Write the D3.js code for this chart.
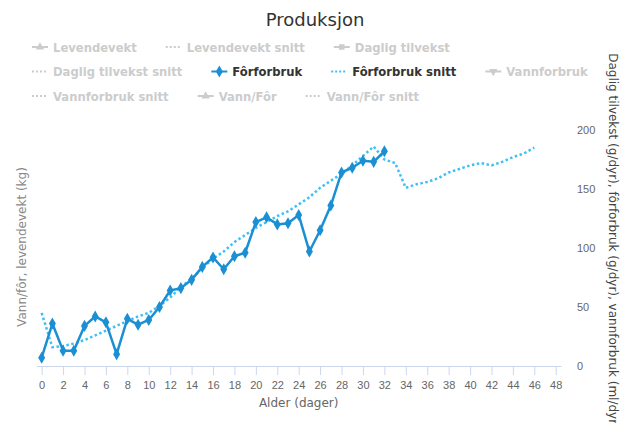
<!DOCTYPE html>
<html>
<head>
<meta charset="utf-8">
<script src="https://cdn.jsdelivr.net/npm/d3@7"></script>
<style>
  body { margin: 0; background: #fff; }
  svg { display: block; font-family: "DejaVu Sans", Verdana, sans-serif; }
</style>
</head>
<body>
<svg id="chart" width="630" height="423"></svg>
<script>
// Fôrforbruk (g/dyr) per alder dag 0..32
var forforbruk = [7, 36, 13, 13, 34, 42, 37, 10, 40, 35, 39, 50, 64, 66, 73, 84, 92, 82, 93, 96,
                  122, 126, 120, 121, 128, 97, 115, 136, 164, 168, 174, 173, 182]
// Fôrforbruk snitt per alder dag 0..46
var forforbrukSnitt = [45, 16, 17, 19, 22, 26, 30, 34, 38, 42, 45, 51, 58, 67, 74, 83, 91, 97, 105, 111,
                       117, 122, 127, 131, 137, 143, 151, 157, 163, 170, 178, 186, 175, 172, 151, 154, 156, 159, 164, 167,
                       170, 172, 170, 173, 177, 180, 185]
var xTicks = [0, 2, 4, 6, 8, 10, 12, 14, 16, 18, 20, 22, 24, 26, 28, 30, 32, 34, 36, 38, 40, 42, 44, 46, 48]
var yTicks = [0, 50, 100, 150, 200]

// legend rows: name, kind, marker, shown
var legendRows = [
  [["Levendevekt", "line", "triangle", false], ["Levendevekt snitt", "dot", null, false], ["Daglig tilvekst", "line", "square", false]],
  [["Daglig tilvekst snitt", "dot", null, false], ["Fôrforbruk", "line", "diamond", true], ["Fôrforbruk snitt", "dot", null, true], ["Vannforbruk", "line", "triangle-down", false]],
  [["Vannforbruk snitt", "dot", null, false], ["Vann/Fôr", "line", "triangle", false], ["Vann/Fôr snitt", "dot", null, false]]
]

var blue = "#1b8fd3"
var cyan = "#3fc0f4"
var hidden = "#cccccc"

var svg = d3.select("#chart")

var x = d3.scaleLinear().domain([-0.5, 48.5]).range([36.3, 561.1])
var yR = d3.scaleLinear().domain([0, 200]).range([366, 130])

// title
svg.append("text")
  .attr("x", 315).attr("y", 26)
  .attr("text-anchor", "middle")
  .attr("font-size", 18).attr("fill", "#333")
  .text("Produksjon")

// legend
var symbolOf = {
  "triangle": d3.symbolTriangle,
  "square": d3.symbolSquare,
  "diamond": d3.symbolDiamond,
  "triangle-down": d3.symbolTriangle
}
legendRows.forEach(function(row, r) {
  var cx = 32
  var cy = 47 + r * 24.5
  row.forEach(function(item) {
    var g = svg.append("g").attr("transform", "translate(" + cx + "," + cy + ")")
    var col = item[3] ? (item[1] == "dot" ? cyan : blue) : hidden
    var ln = g.append("line").attr("x1", 0).attr("x2", 16).attr("y1", 0).attr("y2", 0)
      .attr("stroke", col).attr("stroke-width", 2)
    if (item[1] == "dot") ln.attr("stroke-dasharray", "2,2")
    if (item[2]) {
      g.append("path")
        .attr("d", d3.symbol().type(symbolOf[item[2]]).size(item[2] == "diamond" ? 42 : 30)())
        .attr("transform", "translate(8,0)" + (item[2] == "triangle-down" ? " rotate(180)" : ""))
        .attr("fill", col)
    }
    var t = g.append("text").attr("x", 21).attr("y", 4.5)
      .attr("font-size", 11.6).attr("font-weight", "bold")
      .attr("fill", item[3] ? "#333" : hidden)
      .text(item[0])
    cx += 21 + t.node().getComputedTextLength() + 29
  })
})

// x axis
var xAxis = svg.append("g")
  .attr("transform", "translate(0,366)")
  .call(d3.axisBottom(x).tickValues(xTicks).tickSize(9).tickSizeOuter(0).tickPadding(6))
xAxis.select(".domain").attr("stroke", "#ccd6eb")
xAxis.selectAll(".tick line").attr("stroke", "#ccd6eb")
xAxis.selectAll("text").attr("font-size", 11).attr("fill", "#666").attr("font-family", null)

svg.append("text")
  .attr("x", 298.7).attr("y", 407)
  .attr("text-anchor", "middle")
  .attr("font-size", 12).attr("fill", "#666")
  .text("Alder (dager)")

// right axis
var yAxis = svg.append("g")
  .attr("transform", "translate(561,0)")
  .call(d3.axisRight(yR).tickValues(yTicks).tickSize(0).tickPadding(16))
yAxis.select(".domain").remove()
yAxis.selectAll("text").attr("font-size", 11).attr("fill", "#666").attr("font-family", null)

svg.append("text")
  .attr("transform", "translate(609,241) rotate(90)")
  .attr("text-anchor", "middle")
  .attr("font-size", 12).attr("fill", "#444")
  .text("Daglig tilvekst (g/dyr), fôrforbruk (g/dyr), vannforbruk (ml/dyr)")

svg.append("text")
  .attr("transform", "translate(26,247) rotate(-90)")
  .attr("text-anchor", "middle")
  .attr("font-size", 12).attr("fill", "#888")
  .text("Vann/fôr, levendevekt (kg)")

// series
var line = d3.line()
  .x(function(d, i) { return x(i) })
  .y(function(d) { return yR(d) })

svg.append("path")
  .datum(forforbrukSnitt)
  .attr("d", line)
  .attr("fill", "none")
  .attr("stroke", cyan)
  .attr("stroke-width", 2.5)
  .attr("stroke-dasharray", "2.5,2.5")

svg.append("path")
  .datum(forforbruk)
  .attr("d", line)
  .attr("fill", "none")
  .attr("stroke", blue)
  .attr("stroke-width", 2.5)
  .attr("stroke-linejoin", "round")

svg.selectAll(".pt")
  .data(forforbruk)
  .enter().append("path")
  .attr("class", "pt")
  .attr("d", d3.symbol().type(d3.symbolDiamond).size(42))
  .attr("transform", function(d, i) { return "translate(" + x(i) + "," + yR(d) + ")" })
  .attr("fill", blue)
</script>
</body>
</html>
